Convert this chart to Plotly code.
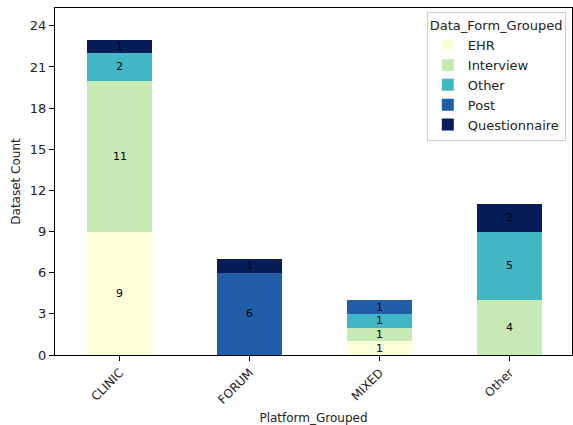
import plotly.graph_objects as go

platforms = ["CLINIC", "FORUM", "MIXED", "Other"]
series_names = ["EHR", "Interview", "Other", "Post", "Questionnaire"]
ehr = [9, 0, 1, 0]
interview = [11, 0, 1, 4]
other = [2, 0, 1, 5]
post = [0, 6, 1, 0]
questionnaire = [1, 1, 0, 2]
colors = ["#ffffd9", "#c7e9b4", "#41b6c4", "#225ea8", "#081d58"]

series = [ehr, interview, other, post, questionnaire]
FONT = "DejaVu Sans"

fig = go.Figure()
annotations = []
base = [0] * len(platforms)
for name, vals, col in zip(series_names, series, colors):
    fig.add_trace(go.Bar(
        x=platforms, y=vals, name=name, marker=dict(color=col, line=dict(width=0)),
        width=0.5, textposition="none", hoverinfo="x+y+name",
    ))
    for i, v in enumerate(vals):
        if v > 0:
            annotations.append(dict(
                x=platforms[i], y=base[i] + v / 2, xref="x", yref="y", text=str(v),
                showarrow=False, font=dict(family=FONT, size=11, color="black"),
            ))
        base[i] += v

totals = base
ymax = max(totals) * 1.1

fig.update_layout(
    width=573, height=425,
    barmode="stack",
    paper_bgcolor="white", plot_bgcolor="white",
    margin=dict(l=55, r=1, t=8, b=70, autoexpand=False),
    font=dict(family=FONT, size=12, color="#222222"),
    annotations=annotations,
    legend=dict(
        title=dict(text="Data_Form_Grouped", font=dict(family=FONT, size=13, color="#222222")),
        font=dict(family=FONT, size=13, color="#222222"),
        x=0.988, y=0.988, xanchor="right", yanchor="top",
        bgcolor="rgba(255,255,255,0.85)", bordercolor="#cccccc", borderwidth=1,
        traceorder="normal", itemclick=False,
    ),
    xaxis=dict(
        title=dict(text="Platform_Grouped", font=dict(family=FONT, size=12, color="#222222"), standoff=8),
        range=[-0.5, 3.48], tickangle=-45, showline=True, linecolor="black", linewidth=1, mirror=True,
        ticks="outside", ticklen=5, tickcolor="black", tickfont=dict(family=FONT, size=12, color="#222222"),
        showgrid=False, zeroline=False, automargin=False,
    ),
    yaxis=dict(
        title=dict(text="Dataset Count", font=dict(family=FONT, size=12, color="#222222"), standoff=6),
        range=[0, ymax], tickmode="array", tickvals=list(range(0, 25, 3)),
        showline=True, linecolor="black", linewidth=1, mirror=True,
        ticks="outside", ticklen=5, tickcolor="black", tickfont=dict(family=FONT, size=13, color="#222222"),
        showgrid=False, zeroline=False, automargin=False,
    ),
)

fig.write_html("out.html", config={"displayModeBar": False},
               post_script="document.body.style.margin='0';")
